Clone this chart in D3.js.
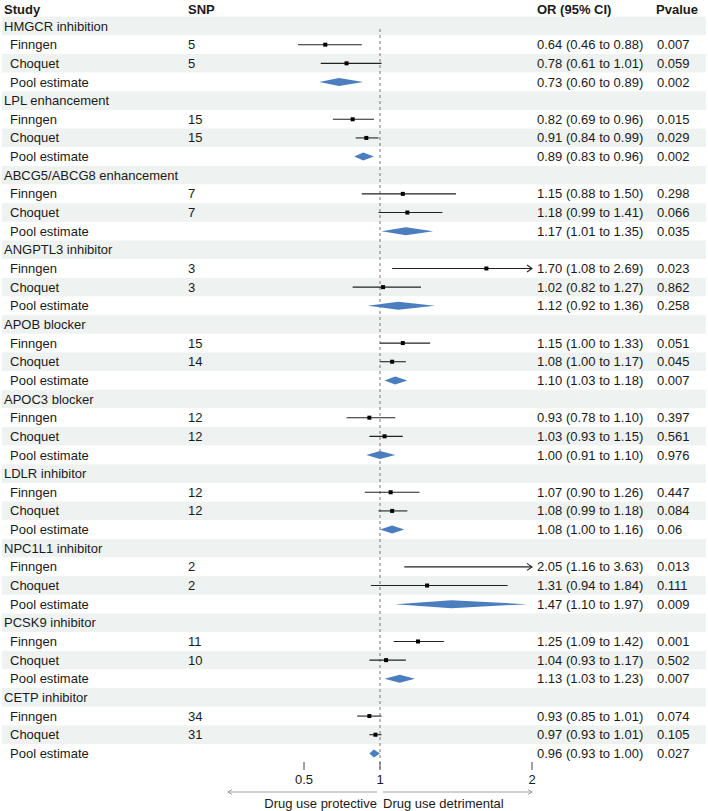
<!DOCTYPE html>
<html><head><meta charset="utf-8">
<script src="https://cdn.jsdelivr.net/npm/d3@7"></script>
<style>body{margin:0;background:#fff}svg{display:block}text{font-family:"Liberation Sans",Arial,sans-serif;font-size:13px;fill:#1a1a1a}</style>
</head><body>
<script>
const groups = ["HMGCR inhibition","LPL enhancement","ABCG5/ABCG8 enhancement","ANGPTL3 inhibitor","APOB blocker","APOC3 blocker","LDLR inhibitor","NPC1L1 inhibitor","PCSK9 inhibitor","CETP inhibitor"];
const studies = ["Finngen","Choquet","Pool estimate"];
const finnSNP = [5,15,7,3,15,12,12,2,11,34];
const finnOR  = [0.64,0.82,1.15,1.70,1.15,0.93,1.07,2.05,1.25,0.93];
const finnLo  = [0.46,0.69,0.88,1.08,1.00,0.78,0.90,1.16,1.09,0.85];
const finnHi  = [0.88,0.96,1.50,2.69,1.33,1.10,1.26,3.63,1.42,1.01];
const finnP   = ["0.007","0.015","0.298","0.023","0.051","0.397","0.447","0.013","0.001","0.074"];
const choqSNP = [5,15,7,3,14,12,12,2,10,31];
const choqOR  = [0.78,0.91,1.18,1.02,1.08,1.03,1.08,1.31,1.04,0.97];
const choqLo  = [0.61,0.84,0.99,0.82,1.00,0.93,0.99,0.94,0.93,0.93];
const choqHi  = [1.01,0.99,1.41,1.27,1.17,1.15,1.18,1.84,1.17,1.01];
const choqP   = ["0.059","0.029","0.066","0.862","0.045","0.561","0.084","0.111","0.502","0.105"];
const poolOR  = [0.73,0.89,1.17,1.12,1.10,1.00,1.08,1.47,1.13,0.96];
const poolLo  = [0.60,0.83,1.01,0.92,1.03,0.91,1.00,1.10,1.03,0.93];
const poolHi  = [0.89,0.96,1.35,1.36,1.18,1.10,1.16,1.97,1.23,1.00];
const poolP   = ["0.002","0.002","0.035","0.258","0.007","0.976","0.06","0.009","0.007","0.027"];
const tickVals = [0.5,1,2];
const axisLeftLabel = "Drug use protective", axisRightLabel = "Drug use detrimental";

const W=708,H=811;
const svg=d3.select("body").append("svg").attr("width",W).attr("height",H);
const x=d3.scaleLinear().domain([0,2]).range([228,532]);
const rowH=18.65, top0=16.7;
const nRows=groups.length*4;
const y=d3.scaleLinear().domain([0,1]).range([top0,top0+rowH]);
const yc=i=>y(i)+rowH/2;
const fmt=v=>v.toFixed(2);
const snpX=188, orX=537, pX=657;

const rows=[];
groups.forEach((g,k)=>{
  rows.push({type:"group",label:g});
  rows.push({type:"study",label:studies[0],snp:finnSNP[k],or:finnOR[k],lo:finnLo[k],hi:finnHi[k],p:finnP[k]});
  rows.push({type:"study",label:studies[1],snp:choqSNP[k],or:choqOR[k],lo:choqLo[k],hi:choqHi[k],p:choqP[k]});
  rows.push({type:"pool",label:studies[2],snp:"",or:poolOR[k],lo:poolLo[k],hi:poolHi[k],p:poolP[k]});
});

svg.selectAll("rect.bg").data(rows).join("rect")
  .attr("x",2).attr("width",W-4).attr("y",(d,i)=>y(i)).attr("height",rowH)
  .attr("fill",(d,i)=>i%2===0?"#eef2f1":"#ffffff");

const hy=9;
const hdr=[["Study",4],["SNP",snpX],["OR (95% CI)",orX],["Pvalue",pX-1]];
svg.selectAll("text.hdr").data(hdr).join("text").attr("class","hdr")
  .attr("x",d=>d[1]).attr("y",hy).attr("dy","0.35em").style("font-weight","bold").text(d=>d[0]);

svg.selectAll("text.lab").data(rows).join("text").attr("class","lab")
  .attr("x",d=>d.type==="group"?4:10).attr("y",(d,i)=>yc(i)).attr("dy","0.35em").text(d=>d.label);
const dataRows=rows.map((d,i)=>({...d,i})).filter(d=>d.type!=="group");
svg.selectAll("text.snp").data(dataRows.filter(d=>d.type==="study")).join("text")
  .attr("x",snpX).attr("y",d=>yc(d.i)).attr("dy","0.35em").text(d=>d.snp);
svg.selectAll("text.orci").data(dataRows).join("text")
  .attr("x",orX).attr("y",d=>yc(d.i)).attr("dy","0.35em")
  .text(d=>`${fmt(d.or)} (${fmt(d.lo)} to ${fmt(d.hi)})`);
svg.selectAll("text.pv").data(dataRows).join("text")
  .attr("x",pX).attr("y",d=>yc(d.i)).attr("dy","0.35em").text(d=>d.p);

svg.append("line").attr("x1",x(1)).attr("x2",x(1)).attr("y1",yc(0)+3).attr("y2",y(nRows)+6)
  .attr("stroke","#777").attr("stroke-width",1).attr("stroke-dasharray","3,3");

const [xmin,xmax]=x.domain();
const st=dataRows.filter(d=>d.type==="study");
svg.selectAll("line.ci").data(st).join("line")
  .attr("x1",d=>x(Math.max(d.lo,xmin))).attr("x2",d=>x(Math.min(d.hi,xmax)))
  .attr("y1",d=>yc(d.i)).attr("y2",d=>yc(d.i)).attr("stroke","#222").attr("stroke-width",1.1);
svg.selectAll("path.arr").data(st.filter(d=>d.hi>xmax)).join("path")
  .attr("d",d=>{const X=x(xmax),Y=yc(d.i);return `M${X-5},${Y-3.5}L${X},${Y}L${X-5},${Y+3.5}`;})
  .attr("fill","none").attr("stroke","#222").attr("stroke-width",1.1);
svg.selectAll("rect.pt").data(st.filter(d=>d.or<=xmax)).join("rect")
  .attr("x",d=>x(d.or)-2).attr("y",d=>yc(d.i)-2).attr("width",4).attr("height",4).attr("fill","#000");
svg.selectAll("path.dia").data(dataRows.filter(d=>d.type==="pool")).join("path")
  .attr("d",d=>{const Y=yc(d.i),h=4;return `M${x(d.lo)},${Y}L${x(d.or)},${Y-h}L${x(d.hi)},${Y}L${x(d.or)},${Y+h}Z`;})
  .attr("fill","#4a7ebf");

const ty0=762, ty1=770;
svg.selectAll("line.tk").data(tickVals).join("line")
  .attr("x1",d=>x(d)).attr("x2",d=>x(d)).attr("y1",ty0).attr("y2",ty1).attr("stroke","#444").attr("stroke-width",1);
svg.selectAll("text.tk").data(tickVals).join("text")
  .attr("x",d=>x(d)).attr("y",779).attr("dy","0.35em").attr("text-anchor","middle").text(d=>d);

const ay=792;
const g=svg.append("g").attr("stroke","#888").attr("stroke-width",0.8).attr("fill","none");
g.append("line").attr("x1",x(1)-3).attr("x2",x(0)).attr("y1",ay).attr("y2",ay);
g.append("path").attr("d",`M${x(0)+4},${ay-2.5}L${x(0)},${ay}L${x(0)+4},${ay+2.5}`);
g.append("line").attr("x1",x(1)+3).attr("x2",x(2)).attr("y1",ay).attr("y2",ay);
g.append("path").attr("d",`M${x(2)-4},${ay-2.5}L${x(2)},${ay}L${x(2)-4},${ay+2.5}`);
svg.append("text").attr("x",x(1)-3).attr("y",803).attr("dy","0.35em").attr("text-anchor","end").text(axisLeftLabel);
svg.append("text").attr("x",x(1)+3).attr("y",803).attr("dy","0.35em").attr("text-anchor","start").text(axisRightLabel);
</script>
</body></html>
